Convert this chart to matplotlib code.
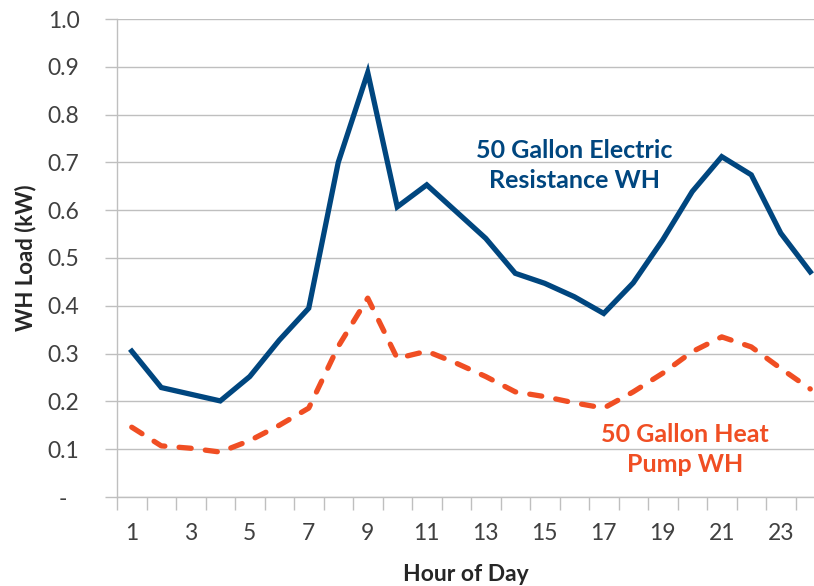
import numpy as np
import matplotlib
matplotlib.use("Agg")
import matplotlib.pyplot as plt
from matplotlib.ticker import FixedLocator

plt.rcParams['font.family'] = ['Lato', 'DejaVu Sans']

# Data
hours = list(range(1, 25))
electric_wh = [0.305, 0.229, 0.215, 0.201, 0.252, 0.328, 0.395, 0.700,
               0.888, 0.607, 0.653, 0.597, 0.541, 0.468, 0.447, 0.419,
               0.384, 0.448, 0.538, 0.639, 0.712, 0.674, 0.552, 0.471]
heat_pump_wh = [0.146, 0.107, 0.102, 0.094, 0.118, 0.150, 0.186, 0.315,
                0.416, 0.290, 0.305, 0.280, 0.252, 0.220, 0.210, 0.197,
                0.186, 0.220, 0.259, 0.304, 0.335, 0.314, 0.269, 0.226]
y_ticks = [0.0, 0.1, 0.2, 0.3, 0.4, 0.5, 0.6, 0.7, 0.8, 0.9, 1.0]
y_labels = ['-  '] + [f"{v:.1f}" for v in y_ticks[1:]]
x_labels = [h for h in hours if h % 2 == 1]

blue = '#00467F'
orange = '#F04E23'
grid_col = '#BFBFBF'
text_col = '#404040'

W, H = 814, 586
fig = plt.figure(figsize=(W / 100, H / 100), dpi=100)
left, right, top, bottom = 117, 814, 19, 497
ax = fig.add_axes([left / W, (H - bottom) / H, (right - left) / W, (bottom - top) / H])

ax.plot(hours, electric_wh, color=blue, lw=3.8, solid_joinstyle='miter', zorder=3)
ax.plot(hours, heat_pump_wh, color=orange, lw=3.8, linestyle=(0, (2.3, 2.7)),
        dash_capstyle='round', zorder=3)

# category axis: 29.5 px per hour, extends past the right edge
ax.set_xlim(0.5, 0.5 + (right - left) / 29.5)
ax.set_ylim(0, 1.0)

ax.set_yticks(y_ticks)
ax.set_yticklabels(y_labels)
ax.tick_params(axis='y', length=9, width=1, color=grid_col, pad=18,
               labelsize=16.5, labelcolor=text_col)
ax.yaxis.grid(True, color=grid_col, lw=1)

ax.set_xticks(x_labels)
ax.set_xticklabels([str(h) for h in x_labels])
ax.xaxis.set_minor_locator(FixedLocator(np.arange(0.5, 25, 1)))
ax.tick_params(axis='x', which='major', length=0, pad=19, labelsize=16.5, labelcolor=text_col)
ax.tick_params(axis='x', which='minor', length=9, width=1, color=grid_col)

for s in ['top', 'right']:
    ax.spines[s].set_visible(False)
for s in ['left', 'bottom']:
    ax.spines[s].set_color(grid_col)
    ax.spines[s].set_linewidth(1)

ax.set_ylabel('WH Load (kW)', fontsize=16, fontweight='bold', color='#262626', labelpad=8)
ax.set_xlabel('Hour of Day', fontsize=16.5, fontweight='bold', color='#262626', labelpad=14)

ax.text(16.0, 0.693, '50 Gallon Electric\nResistance WH', color=blue, fontsize=18,
        fontweight='bold', ha='center', va='center', linespacing=1.35)
ax.text(19.75, 0.1, '50 Gallon Heat\nPump WH', color=orange, fontsize=18,
        fontweight='bold', ha='center', va='center', linespacing=1.35)

fig.savefig('out.png', dpi=100)
